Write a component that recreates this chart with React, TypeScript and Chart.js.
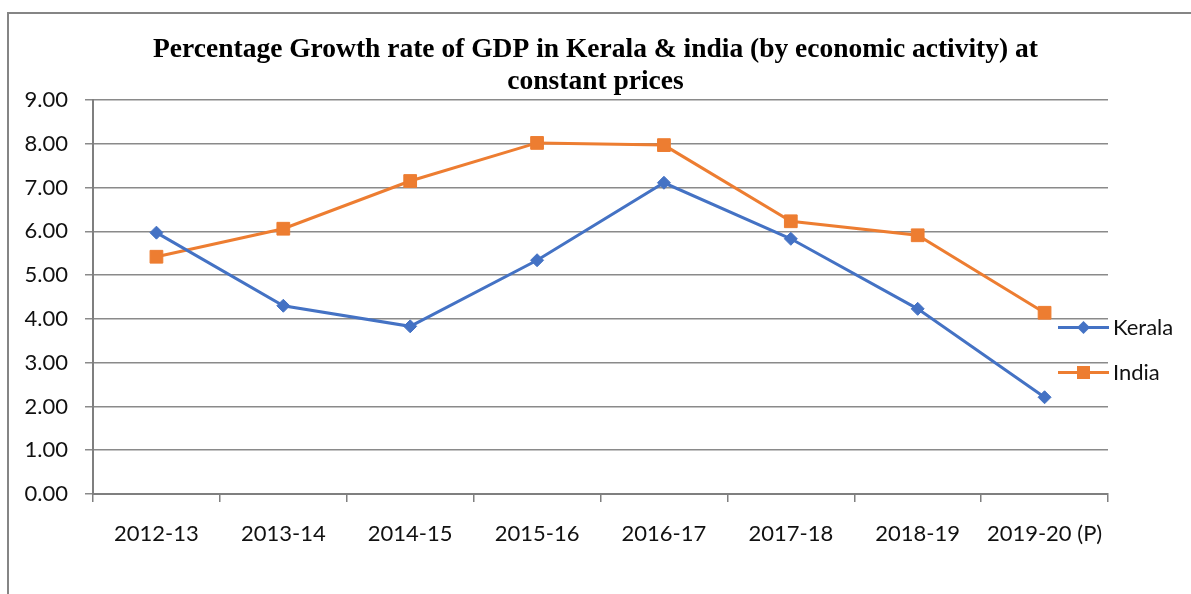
import React, { useEffect, useRef } from "react";
import { Chart, registerables } from "chart.js";

Chart.register(...registerables);

const categories = ["2012-13", "2013-14", "2014-15", "2015-16", "2016-17", "2017-18", "2018-19", "2019-20 (P)"];
const keralaValues = [5.97, 4.30, 3.83, 5.34, 7.11, 5.83, 4.23, 2.21];
const indiaValues = [5.42, 6.06, 7.15, 8.02, 7.97, 6.23, 5.91, 4.14];
const seriesNames = ["Kerala", "India"];
const titleLines = ["Percentage Growth rate of GDP in Kerala & india (by economic activity) at", "constant prices"];

const BLUE = "#4472C4";
const ORANGE = "#ED7D31";
const GRID = "#8a8a8a";
const AXIS = "#7f7f7f";
const LABEL_FONT = "Lato";

const legendPlugin = {
  id: "excelLegend",
  afterDraw(chart: any) {
    const { ctx, chartArea } = chart;
    const x0 = chartArea.right - 50;
    const x1 = chartArea.right + 1;
    const xm = (x0 + x1) / 2;
    const ys = [327.5, 372.5];
    chart.data.datasets.forEach((ds: any, i: number) => {
      const y = ys[i];
      ctx.save();
      ctx.strokeStyle = ds.borderColor;
      ctx.lineWidth = 3;
      ctx.beginPath();
      ctx.moveTo(x0, y);
      ctx.lineTo(x1, y);
      ctx.stroke();
      ctx.fillStyle = ds.borderColor;
      ctx.beginPath();
      if (ds.pointStyle === "rectRot") {
        const r = 6.5;
        ctx.moveTo(xm, y - r);
        ctx.lineTo(xm + r, y);
        ctx.lineTo(xm, y + r);
        ctx.lineTo(xm - r, y);
        ctx.closePath();
      } else {
        const s = 6.5;
        ctx.rect(xm - s, y - s, 2 * s, 2 * s);
      }
      ctx.fill();
      ctx.fillStyle = "#111";
      ctx.font = `22px ${LABEL_FONT}`;
      ctx.textBaseline = "middle";
      ctx.textAlign = "left";
      ctx.fillText(ds.label, x1 + 4, y);
      ctx.restore();
    });
  },
};

export default function App() {
  const ref = useRef<HTMLCanvasElement | null>(null);
  useEffect(() => {
    if (!ref.current) return;
    const chart = new Chart(ref.current, {
      type: "line",
      data: {
        labels: categories,
        datasets: [
          {
            label: seriesNames[0],
            data: keralaValues,
            borderColor: BLUE,
            backgroundColor: BLUE,
            borderWidth: 3,
            pointStyle: "rectRot",
            pointRadius: 6.5,
            pointBorderWidth: 1,
            pointBackgroundColor: BLUE,
            pointBorderColor: BLUE,
            tension: 0,
          },
          {
            label: seriesNames[1],
            data: indiaValues,
            borderColor: ORANGE,
            backgroundColor: ORANGE,
            borderWidth: 3,
            pointStyle: "rect",
            pointRadius: 9,
            pointBorderWidth: 1,
            pointBackgroundColor: ORANGE,
            pointBorderColor: ORANGE,
            tension: 0,
          },
        ],
      },
      options: {
        responsive: false,
        animation: false,
        layout: { padding: { left: 0, right: 0, top: 0, bottom: 0 } },
        plugins: {
          legend: { display: false },
          tooltip: { enabled: false },
          title: {
            display: true,
            text: titleLines,
            color: "#000",
            font: { family: "Liberation Serif", weight: "bold", size: 27.5, lineHeight: 1.164 },
            padding: { top: 34, bottom: 2 },
          },
        },
        scales: {
          x: {
            type: "category",
            offset: true,
            grid: {
              offset: true,
              drawOnChartArea: false,
              drawTicks: true,
              tickLength: 8,
              color: AXIS,
              lineWidth: 1.5,
            },
            border: { display: true, color: AXIS, width: 2 },
            ticks: {
              color: "#111",
              font: { family: LABEL_FONT, size: 22 },
              padding: 19,
              maxRotation: 0,
              autoSkip: false,
            },
            afterFit(scale: any) {
              scale.height = 100;
            },
          },
          y: {
            min: 0,
            max: 9,
            grid: {
              color: GRID,
              lineWidth: 1.5,
              drawTicks: true,
              tickLength: 8,
            },
            border: { display: true, color: AXIS, width: 2 },
            ticks: {
              stepSize: 1,
              color: "#111",
              font: { family: LABEL_FONT, size: 22 },
              padding: 17,
              callback: (v: any) => Number(v).toFixed(2),
            },
            afterFit(scale: any) {
              scale.width = 93;
            },
          },
          legendSpace: {
            type: "linear",
            position: "right",
            display: true,
            grid: { display: false, drawOnChartArea: false, drawTicks: false },
            border: { display: false },
            ticks: { display: false },
            afterFit(scale: any) {
              scale.width = 83;
            },
          },
        },
      },
      plugins: [legendPlugin],
    });
    return () => chart.destroy();
  }, []);

  return (
    <div style={{ position: "absolute", left: 0, top: 0, width: 1191, height: 594, background: "#fff", overflow: "hidden" }}>
      <div
        style={{
          position: "absolute",
          left: 7,
          top: 12,
          right: -2,
          bottom: -2,
          borderLeft: "2px solid #858585",
          borderTop: "2px solid #858585",
        }}
      />
      <canvas ref={ref} width={1191} height={594} style={{ position: "absolute", left: 0, top: 0 }} />
    </div>
  );
}
